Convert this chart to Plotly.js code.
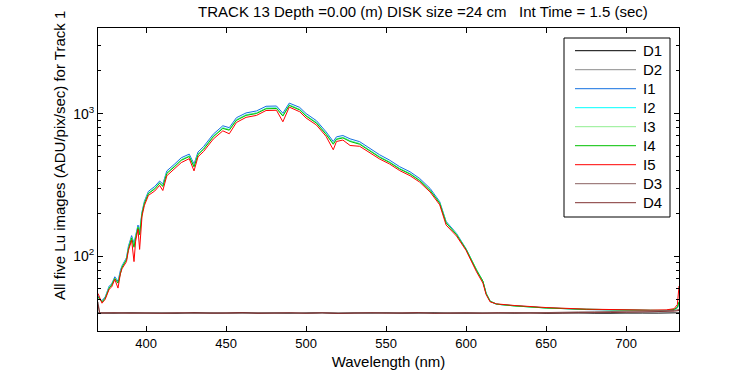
<!DOCTYPE html>
<html>
<head>
<meta charset="utf-8">
<script src="https://cdn.plot.ly/plotly-3.0.1.min.js"></script>
<style>html,body{margin:0;padding:0;background:#fff;}#chart{width:750px;height:375px;}</style>
</head>
<body>
<div id="chart"></div>
<script>
// ---- data ----
const chartTitle = 'TRACK 13 Depth =0.00 (m) DISK size =24 cm   Int Time = 1.5 (sec)';
const xLabel = 'Wavelength (nm)';
const yLabel = 'All five Lu images (ADU/pix/sec) for Track 1';
const seriesNames = ['D1','D2','I1','I2','I3','I4','I5','D3','D4'];
const xTickValues = [400, 450, 500, 550, 600, 650, 700];
const yTickValues = [100, 1000];
const yTickLabels = ['10<sup>2</sup>', '10<sup>3</sup>'];
const yMinorTicks = [30,40,50,60,70,80,90,200,300,400,500,600,700,800,900,2000,3000,4000];

const wavelength = [
  370, 371, 372.5, 374.5, 377, 378.5, 380.5, 382.5, 384, 385,
  387.8, 389, 391, 392.5, 393.5, 395, 396, 397.5, 399, 401.5,
  405.5, 408.5, 410.5, 413, 418, 422, 427, 430, 432.5, 436,
  442, 448, 452, 456.5, 462.5, 469, 475, 481.5, 485.5, 489.5,
  496, 500, 506.5, 512.5, 517, 519, 523, 527.5, 533.5, 540,
  546, 552, 558.5, 565, 571, 577.5, 583.5, 587.5, 594, 600,
  606.5, 610.5, 612.5, 615, 619, 630, 650, 675, 700, 715,
  725, 730, 732, 733];

const I1 = [
  53, 50, 49, 52, 62, 64, 72, 67, 80, 86,
  98, 118, 140, 124, 140, 166, 150, 206, 244, 286,
  310, 338, 322, 398, 446, 492, 522, 445, 540, 590,
  720, 825, 800, 940, 1015, 1048, 1130, 1135, 1010, 1190,
  1110, 1005, 895, 748, 640, 690, 705, 668, 638, 572,
  516, 475, 426, 392, 352, 300, 242, 176, 145, 113,
  80, 67, 55, 48.5, 46.2, 45.2, 43.6, 42.4, 41.9, 41.6,
  41.7, 42.3, 43.5, 47];
const I2 = [
  52, 50, 48, 51, 60.5, 63, 70.5, 65.5, 78.5, 84.5,
  96, 114.5, 136, 118, 136.5, 161, 144, 201.5, 238, 278,
  301, 329, 313, 386, 432, 477, 507, 431, 523, 571,
  698, 799, 776, 910, 985, 1016, 1096, 1101, 977, 1156,
  1076, 974, 869, 726, 620, 669, 685, 648, 619, 556,
  500, 461, 414, 381, 343, 293, 238, 173.5, 143, 112,
  80, 66.5, 55, 48.5, 46.3, 45, 43.5, 42.5, 42, 41.8,
  41.8, 42.5, 44, 48];
const I3 = [
  52, 50, 48, 51, 60.5, 63, 70.5, 65.5, 78.5, 84.5,
  96, 114, 136, 118, 136, 161, 144, 201, 238, 278,
  300, 329, 312, 385, 431, 476, 506, 430, 522, 570,
  696, 797, 774, 908, 983, 1014, 1094, 1099, 975, 1154,
  1074, 972, 867, 724, 618, 667, 683, 646, 617, 554,
  499, 460, 413, 380, 342, 292, 237, 173, 143, 112,
  80, 66.5, 55, 48.5, 46.3, 45, 43.5, 42.5, 42, 41.8,
  41.8, 42.5, 44, 48];
const I4 = [
  52, 50, 48, 51, 60, 63, 70, 65, 78, 84,
  95, 113, 135, 116, 135, 160, 142, 200, 236, 276,
  298, 326, 310, 382, 428, 472, 502, 425, 518, 565,
  690, 790, 768, 900, 975, 1005, 1085, 1090, 965, 1145,
  1065, 965, 860, 718, 612, 662, 678, 640, 612, 550,
  495, 457, 410, 378, 340, 290, 236, 172, 142, 112,
  80, 67, 55, 48.5, 46.3, 45, 43.5, 42.5, 42, 41.8,
  41.8, 42.5, 44, 48];
const I5 = [
  55, 52, 47, 50, 59, 61, 69, 60, 76, 82,
  92, 110, 130, 92, 128, 155, 112, 192, 228, 268,
  288, 315, 290, 368, 412, 455, 485, 398, 500, 545,
  665, 760, 725, 870, 945, 975, 1055, 1060, 880, 1115,
  1035, 935, 835, 695, 560, 640, 655, 600, 592, 532,
  482, 446, 400, 368, 332, 283, 230, 166, 139, 110,
  78, 65, 54, 48, 46.5, 45.3, 43.8, 42.7, 42.1, 42,
  42.2, 43, 46, 62];

const darkWavelength = [
  370, 371, 380, 390, 400, 410, 420, 430, 440, 450,
  460, 470, 480, 490, 500, 510, 520, 530, 540, 550,
  560, 570, 580, 590, 600, 610, 620, 630, 640, 650,
  660, 670, 680, 690, 700, 710, 720, 730, 733];
const D1 = [
  40.3, 40.1, 39.9, 40.4, 40.0, 40.2, 39.8, 40.3, 40.1, 39.9,
  40.4, 40.0, 40.2, 39.8, 40.1, 40.3, 39.9, 40.2, 40.0, 40.4,
  39.8, 40.1, 40.3, 40.0, 39.9, 40.2, 40.1, 40.0, 40.3, 39.9,
  40.1, 40.2, 39.8, 40.0, 40.3, 40.1, 40.0, 40.2, 40.4];
const D2 = [
  40.0, 40.2, 40.3, 39.9, 40.1, 40.4, 40.0, 39.8, 40.2, 40.3,
  39.9, 40.1, 40.3, 40.0, 39.8, 40.2, 40.1, 40.4, 39.9, 40.0,
  40.3, 40.1, 39.9, 40.2, 40.4, 40.0, 39.8, 40.1, 40.2, 40.0,
  40.3, 39.9, 40.1, 40.2, 40.0, 40.4, 40.1, 39.9, 40.2];
const D3 = [
  48, 40.2, 40.0, 40.3, 39.9, 40.1, 40.4, 40.0, 40.2, 39.8,
  40.1, 40.3, 40.0, 40.2, 39.9, 40.4, 40.1, 40.0, 40.2, 40.3,
  39.9, 40.1, 40.2, 40.0, 40.3, 40.1, 40.0, 40.4, 40.2, 40.5,
  40.6, 40.8, 40.9, 41.1, 41.3, 41.4, 41.6, 41.8, 42.5];
const D4 = [
  46, 40.1, 40.3, 40.0, 40.2, 39.9, 40.1, 40.3, 40.0, 40.2,
  40.4, 39.9, 40.1, 40.3, 40.0, 40.2, 39.8, 40.1, 40.3, 40.0,
  40.2, 40.4, 39.9, 40.1, 40.2, 40.0, 40.3, 40.1, 40.0, 40.2,
  40.1, 40.3, 40.2, 40.4, 40.6, 40.8, 41.0, 41.3, 41.8];

// ---- styling ----
const colors = {
  D1: '#000000', D2: '#8c8c8c', I1: '#1470e0', I2: '#00ffff', I3: '#90ee90',
  I4: '#00c000', I5: '#ff0000', D3: '#8a6262', D4: '#803232'
};
const seriesData = {
  D1: [darkWavelength, D1], D2: [darkWavelength, D2],
  I1: [wavelength, I1], I2: [wavelength, I2], I3: [wavelength, I3],
  I4: [wavelength, I4], I5: [wavelength, I5],
  D3: [darkWavelength, D3], D4: [darkWavelength, D4]
};
const FONT = 'Liberation Sans, Arial, Helvetica, sans-serif';

const traces = seriesNames.map(n => ({
  type: 'scatter', mode: 'lines', name: n,
  x: seriesData[n][0], y: seriesData[n][1],
  line: { color: colors[n], width: 1 },
  showlegend: false, hoverinfo: 'skip'
}));

// plot area in pixels: left 98, right 679, top 28, bottom 331
const L = 98, R = 679, T = 28, B = 331;
const px = x => (x - L) / (R - L);
const py = y => (B - y) / (B - T);

const shapes = [];
const annotations = [];
// custom MATLAB-style legend
shapes.push({ type: 'rect', xref: 'paper', yref: 'paper', layer: 'above',
  x0: px(564), x1: px(670), y0: py(217), y1: py(38),
  line: { color: '#000', width: 1 }, fillcolor: '#fff' });
seriesNames.forEach((n, i) => {
  const yy = 50.7 + 19 * i;
  shapes.push({ type: 'line', xref: 'paper', yref: 'paper', layer: 'above',
    x0: px(575), x1: px(636), y0: py(yy), y1: py(yy),
    line: { color: colors[n], width: 1 } });
  annotations.push({ xref: 'paper', yref: 'paper', x: px(641), y: py(yy),
    xanchor: 'left', yanchor: 'middle', showarrow: false, text: n,
    font: { family: FONT, size: 15, color: '#000' } });
});
// y-axis label
annotations.push({ xref: 'paper', yref: 'paper', x: px(59), y: py(156),
  xanchor: 'center', yanchor: 'middle', showarrow: false, textangle: -90,
  text: yLabel, font: { family: FONT, size: 15, color: '#000' } });

const layout = {
  width: 750, height: 375,
  margin: { l: L, r: 750 - R, t: T, b: 375 - B, pad: 0 },
  paper_bgcolor: '#fff', plot_bgcolor: '#fff',
  font: { family: FONT, size: 13, color: '#000' },
  title: { text: chartTitle, font: { family: FONT, size: 15, color: '#000' },
    x: 423 / 750, xanchor: 'center', xref: 'container',
    y: 1 - 12 / 375, yanchor: 'middle', yref: 'container' },
  xaxis: {
    range: [370, 733], tickmode: 'array', tickvals: xTickValues,
    ticks: 'inside', ticklen: 5, tickwidth: 1, tickcolor: '#000',
    showline: true, linecolor: '#000', linewidth: 1, mirror: 'ticks',
    showgrid: false, zeroline: false,
    tickfont: { family: FONT, size: 13, color: '#000' },
    title: { text: xLabel, font: { family: FONT, size: 15, color: '#000' }, standoff: 6 }
  },
  yaxis: {
    type: 'log', range: [Math.log10(30), Math.log10(4000)],
    tickmode: 'array', tickvals: yTickValues, ticktext: yTickLabels,
    ticks: 'inside', ticklen: 5, tickwidth: 1, tickcolor: '#000',
    showline: true, linecolor: '#000', linewidth: 1, mirror: 'ticks',
    showgrid: false, zeroline: false,
    tickfont: { family: FONT, size: 14, color: '#000' },
    minor: { tickmode: 'array', tickvals: yMinorTicks, ticks: 'inside',
      ticklen: 3, tickwidth: 1, tickcolor: '#000', showgrid: false }
  },
  showlegend: false,
  shapes: shapes,
  annotations: annotations
};

Plotly.newPlot('chart', traces, layout, { displayModeBar: false, staticPlot: true });
</script>
</body>
</html>
